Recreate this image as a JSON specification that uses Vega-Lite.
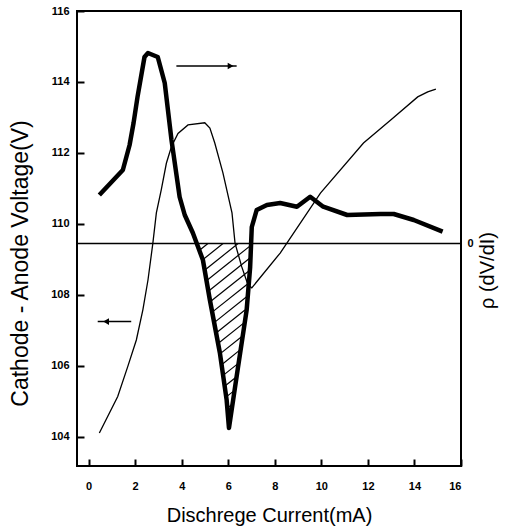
{
  "$schema": "https://vega.github.io/schema/vega-lite/v6.json",
  "width": 384,
  "height": 455,
  "autosize": {"type": "none"},
  "padding": {"left": 77, "top": 11, "right": 65, "bottom": 60},
  "background": "white",
  "config": {
    "view": {"stroke": "black", "strokeWidth": 2},
    "axis": {
      "domain": false,
      "grid": false,
      "zindex": 1,
      "labelFont": "Liberation Sans",
      "labelFontWeight": "bold",
      "labelFontSize": 11,
      "labelColor": "black",
      "titleFont": "Liberation Sans",
      "titleFontWeight": "normal",
      "titleColor": "black"
    }
  },
  "datasets": {
    "thin": [
      {"I": 0.46, "V": 104.11}, {"I": 1.25, "V": 105.14}, {"I": 1.68, "V": 105.98}, {"I": 2.05, "V": 106.73},
      {"I": 2.33, "V": 107.58}, {"I": 2.55, "V": 108.42}, {"I": 2.76, "V": 109.46}, {"I": 2.91, "V": 110.31},
      {"I": 3.12, "V": 110.96}, {"I": 3.34, "V": 111.71}, {"I": 3.56, "V": 112.18}, {"I": 3.84, "V": 112.55},
      {"I": 4.27, "V": 112.79}, {"I": 4.99, "V": 112.85}, {"I": 5.21, "V": 112.7}, {"I": 5.42, "V": 112.28},
      {"I": 5.77, "V": 111.44}, {"I": 6.16, "V": 110.31}, {"I": 6.29, "V": 109.46}, {"I": 6.58, "V": 108.79},
      {"I": 6.85, "V": 108.28}, {"I": 7.01, "V": 108.2}, {"I": 8.23, "V": 109.18}, {"I": 9.96, "V": 110.87},
      {"I": 11.81, "V": 112.28}, {"I": 12.98, "V": 112.93}, {"I": 14.14, "V": 113.58}, {"I": 14.57, "V": 113.72},
      {"I": 14.92, "V": 113.8}
    ],
    "thick": [
      {"I": 0.46, "rho": 4.85}, {"I": 1.47, "rho": 7.35}, {"I": 1.76, "rho": 9.85}, {"I": 1.93, "rho": 12.05},
      {"I": 2.1, "rho": 14.65}, {"I": 2.4, "rho": 18.65}, {"I": 2.55, "rho": 19.05}, {"I": 2.97, "rho": 18.65},
      {"I": 3.27, "rho": 16.05}, {"I": 3.56, "rho": 10.35}, {"I": 3.91, "rho": 4.65}, {"I": 4.13, "rho": 2.85},
      {"I": 4.48, "rho": 1.05}, {"I": 4.91, "rho": -1.65}, {"I": 5.21, "rho": -5.65}, {"I": 5.64, "rho": -10.95},
      {"I": 5.93, "rho": -15.65}, {"I": 6.03, "rho": -18.45}, {"I": 6.42, "rho": -12.35}, {"I": 6.79, "rho": -6.65},
      {"I": 6.94, "rho": -2.35}, {"I": 7.01, "rho": 1.65}, {"I": 7.22, "rho": 3.35}, {"I": 7.66, "rho": 3.85},
      {"I": 8.23, "rho": 4.05}, {"I": 8.95, "rho": 3.68}, {"I": 9.52, "rho": 4.68}, {"I": 10.08, "rho": 3.68},
      {"I": 11.11, "rho": 2.85}, {"I": 12.55, "rho": 2.95}, {"I": 13.11, "rho": 2.95}, {"I": 13.97, "rho": 2.35},
      {"I": 15.21, "rho": 1.18}
    ],
    "hatch": [
      {"I": 4.777, "rho": -0.65, "I2": 5.127, "rho2": 0},
      {"I": 4.903, "rho": -1.62, "I2": 5.775, "rho2": 0},
      {"I": 4.985, "rho": -2.67, "I2": 6.422, "rho2": 0},
      {"I": 5.063, "rho": -3.72, "I2": 6.955, "rho2": -0.21},
      {"I": 5.145, "rho": -4.77, "I2": 6.944, "rho2": -1.43},
      {"I": 5.222, "rho": -5.82, "I2": 6.925, "rho2": -2.67},
      {"I": 5.309, "rho": -6.86, "I2": 6.884, "rho2": -3.95},
      {"I": 5.395, "rho": -7.91, "I2": 6.841, "rho2": -5.22},
      {"I": 5.477, "rho": -8.95, "I2": 6.798, "rho2": -6.5},
      {"I": 5.563, "rho": -10.0, "I2": 6.716, "rho2": -7.86},
      {"I": 5.645, "rho": -11.04, "I2": 6.625, "rho2": -9.23},
      {"I": 5.714, "rho": -12.12, "I2": 6.534, "rho2": -10.59},
      {"I": 5.779, "rho": -13.19, "I2": 6.444, "rho2": -11.96},
      {"I": 5.844, "rho": -14.27, "I2": 6.357, "rho2": -13.33},
      {"I": 5.913, "rho": -15.34, "I2": 6.271, "rho2": -14.69},
      {"I": 5.96, "rho": -16.46, "I2": 6.18, "rho2": -16.05},
      {"I": 5.999, "rho": -17.58, "I2": 6.094, "rho2": -17.41}
    ],
    "arrows": [
      {"I": 3.77, "I2": 6.36, "V": 114.45, "head": 6.1, "shape": "triangle-right"},
      {"I": 0.39, "I2": 1.83, "V": 107.25, "head": 0.75, "shape": "triangle-left"}
    ]
  },
  "layer": [
    {
      "layer": [
        {
          "data": {"name": "thin"},
          "mark": {"type": "line", "color": "black", "strokeWidth": 1.3},
          "encoding": {
            "x": {
              "field": "I", "type": "quantitative",
              "scale": {"domain": [-0.5, 16], "nice": false, "zero": false},
              "axis": {
                "title": "Dischrege Current(mA)",
                "titleFontSize": 20,
                "titleY": 49,
                "titleBaseline": "middle",
                "values": [0, 1, 2, 3, 4, 5, 6, 7, 8, 9, 10, 11, 12, 13, 14, 15, 16],
                "labelExpr": "datum.value % 2 === 0 ? datum.label : ''",
                "ticks": true,
                "tickSize": -7,
                "tickWidth": 2,
                "tickColor": "black",
                "tickDash": {"condition": {"test": "datum.value % 2 !== 0", "value": [3, 20]}, "value": [7, 0]},
                "labelPadding": 21
              }
            },
            "y": {
              "field": "V", "type": "quantitative",
              "scale": {"domain": [103.18, 116], "nice": false, "zero": false},
              "axis": {
                "orient": "left",
                "title": "Cathode - Anode Voltage(V)",
                "titleFontSize": 23,
                "titleX": -57,
                "titleY": 252,
                "titleBaseline": "middle",
                "values": [104, 105, 106, 107, 108, 109, 110, 111, 112, 113, 114, 115, 116],
                "labelExpr": "datum.value % 2 === 0 ? datum.label : ''",
                "ticks": true,
                "tickSize": -7,
                "tickWidth": 2,
                "tickColor": "black",
                "tickDash": {"condition": {"test": "datum.value % 2 !== 0", "value": [3, 20]}, "value": [7, 0]},
                "labelPadding": 15
              }
            }
          }
        },
        {
          "data": {"name": "arrows"},
          "mark": {"type": "rule", "color": "black", "strokeWidth": 1.5},
          "encoding": {
            "x": {"field": "I", "type": "quantitative"},
            "x2": {"field": "I2"},
            "y": {"field": "V", "type": "quantitative"}
          }
        },
        {
          "data": {"name": "arrows"},
          "mark": {"type": "point", "filled": true, "color": "black", "opacity": 1, "size": 45},
          "encoding": {
            "x": {"field": "head", "type": "quantitative"},
            "y": {"field": "V", "type": "quantitative"},
            "shape": {"field": "shape", "type": "nominal", "scale": {"domain": ["triangle-right", "triangle-left"], "range": ["triangle-right", "triangle-left"]}, "legend": null}
          }
        }
      ]
    },
    {
      "layer": [
        {
          "data": {"name": "hatch"},
          "mark": {"type": "rule", "color": "black", "strokeWidth": 1.2},
          "encoding": {
            "x": {"field": "I", "type": "quantitative", "scale": {"domain": [-0.5, 16], "nice": false, "zero": false}},
            "x2": {"field": "I2"},
            "y": {
              "field": "rho", "type": "quantitative",
              "scale": {"domain": [-22.25, 23.25], "nice": false, "zero": false},
              "axis": {
                "orient": "right",
                "title": "ρ (dV/dI)",
                "titleFontSize": 20,
                "titleAngle": 270,
                "titleX": 26,
                "titleY": 259,
                "titleBaseline": "middle",
                "values": [0],
                "ticks": false,
                "labelPadding": 6
              }
            },
            "y2": {"field": "rho2"}
          }
        },
        {
          "data": {"values": [{"z": 0}]},
          "mark": {"type": "rule", "color": "black", "strokeWidth": 1.5},
          "encoding": {
            "y": {"field": "z", "type": "quantitative"}
          }
        },
        {
          "data": {"name": "thick"},
          "mark": {"type": "line", "color": "black", "strokeWidth": 4.5, "strokeJoin": "round"},
          "encoding": {
            "x": {"field": "I", "type": "quantitative"},
            "y": {"field": "rho", "type": "quantitative"}
          }
        }
      ]
    }
  ],
  "resolve": {"scale": {"y": "independent"}}
}
